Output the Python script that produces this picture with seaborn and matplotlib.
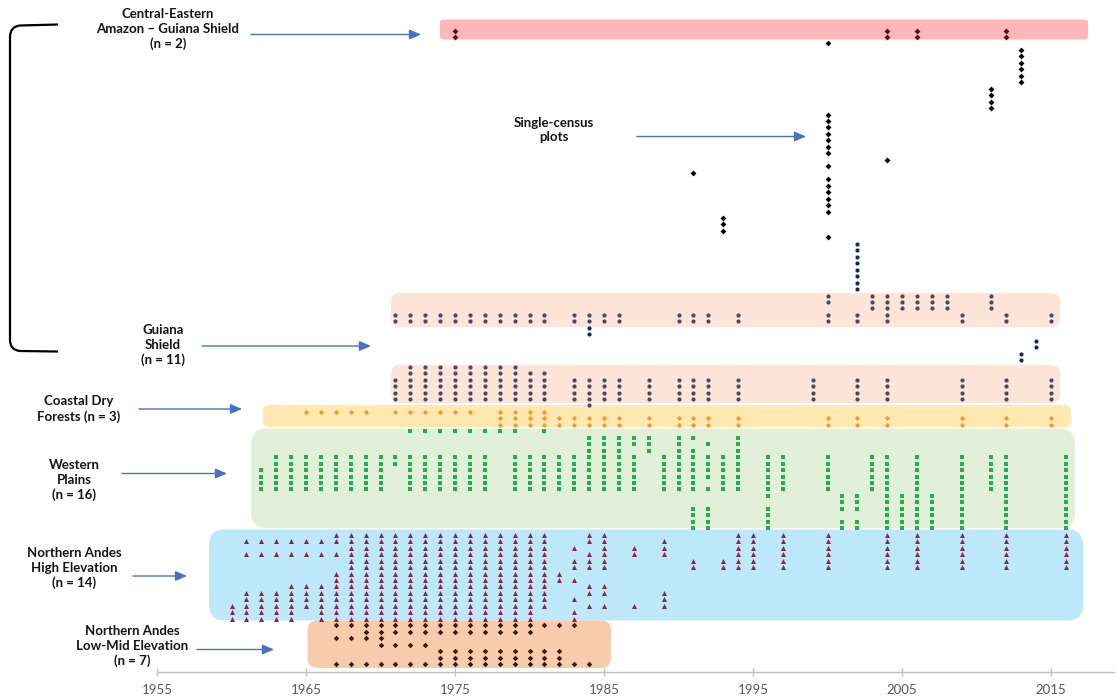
import matplotlib
matplotlib.use("Agg")
import matplotlib.pyplot as plt
import pandas as pd
import seaborn as sns
from matplotlib.patches import FancyBboxPatch, PathPatch
from matplotlib.path import Path
from matplotlib.transforms import IdentityTransform

# ---------------------------------------------------------------------------
# Census years of every plot, one list per plot (row), grouped by region
# ---------------------------------------------------------------------------
central_eastern = [
    [1975, 2004, 2006, 2012],
    [1975, 2004, 2006, 2012],
]

single_census = [
    [2000],
    [2013], [2013], [2013], [2013], [2013], [2013],
    [2011], [2011], [2011], [2011],
    [2000], [2000], [2000], [2000], [2000], [2000], [2000],
    [2004],
    [2000],
    [1991],
    [2000], [2000], [2000], [2000], [2000], [2000],
    [1993], [1993], [1993],
    [2000],
]

single_census_navy = [
    [2002], [2002], [2002], [2002], [2002], [2002], [2002], [2002],
    [], [], [], [], [],
    [1984], [1984],
    [2014], [2014],
    [2013], [2013],
]

guiana_shield = [
    [2000, 2003, 2004, 2005, 2006, 2007, 2008, 2011],
    [2000, 2003, 2004, 2005, 2006, 2007, 2008, 2011],
    [2003, 2004, 2005, 2006, 2007, 2008, 2011],
    [1971, 1972, 1973, 1974, 1975, 1976, 1977, 1978, 1979, 1980, 1981, 1983,
     1984, 1985, 1986, 1990, 1991, 1992, 1994, 2000, 2002, 2004, 2009, 2012, 2015],
    [1971, 1972, 1973, 1974, 1975, 1976, 1977, 1978, 1979, 1980, 1981, 1983,
     1984, 1985, 1986, 1990, 1991, 1992, 1994, 2000, 2002, 2004, 2009, 2012, 2015],
    [], [], [], [], [], [],
    [1972, 1973, 1974, 1975, 1976, 1977, 1978, 1979],
    [1972, 1973, 1974, 1975, 1976, 1977, 1978, 1979, 1980, 1981],
    [1971, 1972, 1973, 1974, 1975, 1976, 1977, 1978, 1979, 1980, 1981, 1983, 1984, 1985,
     1986, 1988, 1990, 1991, 1992, 1994, 1999, 2002, 2004, 2009, 2012, 2015],
    [1971, 1972, 1973, 1974, 1975, 1976, 1977, 1978, 1979, 1980, 1981, 1983, 1984, 1985,
     1986, 1988, 1990, 1991, 1992, 1994, 1999, 2002, 2004, 2009, 2012, 2015],
    [1971, 1972, 1973, 1974, 1975, 1976, 1977, 1978, 1979, 1980, 1981, 1983, 1984, 1985,
     1986, 1988, 1990, 1991, 1992, 1994, 1999, 2002, 2004, 2009, 2012, 2015],
    [1971, 1972, 1973, 1974, 1975, 1976, 1977, 1978, 1979, 1980, 1981, 1983, 1984, 1985,
     1986, 1988, 1990, 1991, 1992, 1994, 1999, 2002, 2004, 2009, 2012, 2015],
    [1984],
]

coastal_dry = [
    [1965, 1966, 1967, 1968, 1969, 1971, 1972, 1973, 1974, 1975, 1976, 1978, 1979, 1980, 1981],
    [1978, 1979, 1980, 1981, 1982, 1983, 1984, 1985, 1986, 1988, 1990, 1991, 1992, 1994,
     2000, 2002, 2004, 2009, 2012, 2015],
    [1978, 1979, 1980, 1981, 1982, 1983, 1984, 1985, 1986, 1988, 1990, 1991, 1992, 1994,
     2000, 2002, 2004, 2009, 2012, 2015],
]

western_plains = [
    [1972, 1973, 1974, 1975, 1976, 1977, 1978, 1979, 1981],
    [1984, 1985, 1986, 1987, 1988, 1990, 1991, 1994],
    [1984, 1985, 1986, 1987, 1988, 1990, 1992, 1994],
    [1984, 1985, 1986, 1988, 1990, 1991, 1994],
    [1963, 1964, 1965, 1966, 1967, 1968, 1969, 1970, 1971, 1972, 1973, 1974, 1975, 1976,
     1977, 1979, 1980, 1981, 1982, 1983, 1984, 1985, 1986, 1987, 1989, 1990, 1991, 1992,
     1993, 1994, 1996, 1997, 2000, 2003, 2004, 2006, 2009, 2011, 2012, 2016],
    [1963, 1964, 1965, 1966, 1967, 1968, 1969, 1970, 1971, 1972, 1973, 1974, 1975, 1976,
     1977, 1979, 1980, 1981, 1982, 1983, 1984, 1985, 1986, 1987, 1989, 1990, 1991, 1992,
     1993, 1994, 1996, 1997, 2000, 2003, 2004, 2006, 2009, 2011, 2012, 2016],
    [1962, 1963, 1964, 1965, 1966, 1967, 1968, 1969, 1970, 1972, 1973, 1974, 1975, 1976,
     1977, 1979, 1980, 1981, 1982, 1983, 1984, 1985, 1986, 1987, 1989, 1990, 1991, 1992,
     1993, 1994, 1996, 1997, 2000, 2003, 2004, 2006, 2009, 2011, 2012, 2016],
    [1962, 1963, 1964, 1965, 1966, 1967, 1968, 1969, 1970, 1972, 1973, 1974, 1975, 1976,
     1977, 1979, 1980, 1981, 1982, 1983, 1984, 1985, 1986, 1987, 1989, 1990, 1991, 1992,
     1993, 1994, 1996, 1997, 2000, 2003, 2004, 2006, 2009, 2011, 2012, 2016],
    [1962, 1963, 1964, 1965, 1966, 1967, 1968, 1969, 1970, 1972, 1973, 1974, 1975, 1976,
     1977, 1979, 1980, 1981, 1982, 1983, 1984, 1985, 1986, 1987, 1989, 1990, 1991,
     1993, 1994, 1996, 1997, 2000, 2003, 2004, 2006, 2009, 2011, 2012, 2016],
    [1962, 1963, 1964, 1965, 1966, 1967, 1968, 1969, 1970, 1972, 1973, 1974, 1975, 1976,
     1977, 1979, 1980, 1981, 1982, 1983, 1984, 1985, 1986, 1987, 1989, 1990, 1991, 1992,
     1993, 1994, 1996, 1997, 2000, 2003, 2004, 2006, 2009, 2011, 2012, 2016],
    [1996, 2001, 2002, 2004, 2005, 2006, 2007, 2009, 2012, 2016],
    [2001, 2002, 2004, 2005, 2006, 2007, 2009, 2012, 2016],
    [1991, 1992, 1996, 2001, 2002, 2004, 2005, 2006, 2007, 2009, 2012, 2016],
    [1991, 1992, 1996, 2004, 2005, 2006, 2007, 2009, 2012, 2016],
    [1991, 1992, 1996, 2001, 2002, 2004, 2005, 2006, 2007, 2009, 2012, 2016],
    [1991, 1992, 1996, 2001, 2002, 2004, 2005, 2006, 2007, 2009, 2012, 2016],
]

andes_high = [
    [1967, 1968, 1969, 1970, 1971, 1972, 1973, 1974, 1975, 1976, 1977, 1978, 1979, 1980,
     1981, 1984, 1985, 1994, 1995, 1997, 2000, 2004, 2006, 2009, 2012, 2016],
    [1961, 1962, 1963, 1964, 1965, 1966, 1967, 1968, 1969, 1970, 1971, 1972, 1973, 1974,
     1975, 1976, 1977, 1978, 1979, 1980, 1981, 1984, 1985, 1989, 1994, 1995, 1997, 2000,
     2004, 2006, 2009, 2012, 2016],
    [1968, 1969, 1970, 1971, 1972, 1973, 1974, 1975, 1976, 1977, 1978, 1979, 1980, 1981,
     1983, 1985, 1987, 1989, 1994, 1995, 1997, 2000, 2004, 2006, 2009, 2012, 2016],
    [1961, 1962, 1963, 1964, 1965, 1966, 1967, 1968, 1969, 1970, 1971, 1972, 1973, 1974,
     1975, 1976, 1977, 1978, 1979, 1980, 1981, 1984, 1985, 1987, 1989, 1994, 1995, 1997,
     2000, 2004, 2006, 2009, 2012, 2016],
    [1968, 1969, 1970, 1971, 1972, 1973, 1974, 1975, 1976, 1977, 1978, 1979, 1980, 1981,
     1983, 1984, 1985, 1991, 1993, 1994, 1995, 1997, 2000, 2004, 2006, 2009, 2012, 2016],
    [1968, 1969, 1970, 1971, 1972, 1973, 1974, 1975, 1976, 1977, 1978, 1979, 1980, 1981,
     1983, 1984, 1985, 1991, 1993, 1994, 1995, 1997, 2000, 2004, 2006, 2009, 2012, 2016],
    [1967, 1968, 1969, 1970, 1971, 1972, 1973, 1974, 1975, 1976, 1977, 1978, 1979, 1980,
     1981, 1982],
    [1967, 1968, 1969, 1970, 1971, 1972, 1973, 1974, 1975, 1976, 1977, 1978, 1979, 1980,
     1981, 1982, 1983],
    [1964, 1965, 1966, 1967, 1968, 1969, 1970, 1971, 1972, 1973, 1974, 1975, 1976, 1977,
     1978, 1979, 1980, 1981, 1984, 1985],
    [1961, 1962, 1963, 1964, 1965, 1966, 1967, 1968, 1969, 1970, 1971, 1972, 1973, 1974,
     1975, 1976, 1977, 1978, 1979, 1980, 1981, 1984, 1985, 1989],
    [1961, 1962, 1963, 1964, 1965, 1966, 1967, 1968, 1969, 1970, 1971, 1972, 1973, 1974,
     1975, 1976, 1977, 1978, 1979, 1980, 1981, 1983, 1989],
    [1960, 1961, 1962, 1963, 1964, 1965, 1966, 1967, 1968, 1969, 1970, 1971, 1972, 1973,
     1974, 1975, 1976, 1977, 1978, 1979, 1980, 1981, 1984, 1985, 1987, 1989],
    [1960, 1961, 1962, 1963, 1964, 1966, 1967, 1968, 1969, 1970, 1971, 1972, 1973, 1974,
     1975, 1976, 1977, 1978, 1979, 1980, 1983],
    [1960, 1961, 1962, 1963, 1964, 1966, 1967, 1968, 1969, 1970, 1971, 1972, 1973, 1974,
     1975, 1976, 1977, 1978, 1979, 1980, 1983],
]

andes_low_mid = [
    [1967, 1968, 1969, 1970, 1971, 1972, 1973, 1974, 1975, 1976, 1977, 1978, 1979, 1980,
     1981, 1982, 1983],
    [1969, 1970, 1971, 1972, 1973, 1974, 1975, 1976, 1977, 1978, 1979, 1980],
    [1967, 1968, 1969, 1970],
    [1970, 1971, 1972, 1973],
    [1974, 1975, 1976, 1977, 1978, 1979, 1980, 1981, 1982],
    [1974, 1975, 1976, 1977, 1978, 1979, 1980, 1981, 1982],
    [1967, 1968, 1969, 1970, 1971, 1972, 1973, 1974, 1975, 1976, 1977, 1978, 1979, 1980,
     1981, 1982, 1983, 1984],
]

year_ticks = [1955, 1965, 1975, 1985, 1995, 2005, 2015]

# ---------------------------------------------------------------------------
# Layout and styling
# ---------------------------------------------------------------------------
W, H = 1116, 696
sns.set_theme(style="white")
plt.rcParams["font.family"] = ["Lato", "DejaVu Sans"]

# (name, first row, rows, marker, colour, size)
groups = [
    ("central_eastern", 0, central_eastern, "D", "#5A1018", 9),
    ("single_census", 2, single_census, "D", "#000000", 9),
    ("single_census_navy", 33, single_census_navy, "o", "#0E2A6B", 9),
    ("guiana_shield", 41, guiana_shield, "o", "#454A68", 9),
    ("coastal_dry", 59, coastal_dry, "D", "#F29A2E", 7),
    ("western_plains", 62, western_plains, "s", "#22B04B", 11),
    ("andes_high", 78, andes_high, "^", "#8A2744", 13),
    ("andes_low_mid", 92, andes_low_mid, "D", "#3A1A0E", 8),
]

records = []
for name, first, rows, *_ in groups:
    for i, years in enumerate(rows):
        for yr in years:
            records.append({"group": name, "row": first + i, "year": yr})
df = pd.DataFrame(records)

# background bands: (year start, year end, row top, row bottom, colour, corner px)
bands = [
    (1973.99, 2017.48, -1.70, 1.39, "#FDB6B9", 4),
    (1970.70, 2015.60, 40.60, 45.86, "#FCE5D7", 9),
    (1970.70, 2015.60, 51.74, 57.62, "#FCE5D7", 9),
    (1962.11, 2016.34, 57.93, 61.33, "#FFE9B0", 6),
    (1961.31, 2016.61, 61.56, 76.95, "#E2F0D9", 16),
    (1958.49, 2017.15, 77.18, 91.26, "#BDE8F9", 16),
    (1965.10, 1985.47, 91.26, 98.61, "#F8CBAD", 10),
]

fig = plt.figure(figsize=(W / 100, H / 100), dpi=100)
fig.patch.set_facecolor("white")
ax = fig.add_axes([0, 24 / H, 1, 672 / H])
ax.set_xlim(1944.463, 2019.356)
ax.set_ylim(99.23, -4.718)
ax.set_autoscale_on(False)
ax.patch.set_alpha(0)

for x0, x1, r0, r1, col, rad in bands:
    (px0, py1), (px1, py0) = ax.transData.transform([(x0, r0), (x1, r1)])
    box = FancyBboxPatch((px0 + rad, py0 + rad), (px1 - px0) - 2 * rad, (py1 - py0) - 2 * rad,
                         boxstyle=f"round,pad={rad}", transform=IdentityTransform(),
                         facecolor=col, edgecolor="none", zorder=0, clip_on=False)
    ax.add_artist(box)

for name, first, rows, marker, colour, size in groups:
    sub = df[df["group"] == name]
    sns.scatterplot(data=sub, x="year", y="row", marker=marker, color=colour, s=size,
                    linewidth=0, ax=ax, legend=False, zorder=3)

# axis styling
for side in ("top", "left", "right"):
    ax.spines[side].set_visible(False)
ax.spines["bottom"].set_color("#BFBFBF")
ax.spines["bottom"].set_linewidth(1.0)
ax.spines["bottom"].set_bounds(1955, 2019.2)
ax.set_xticks(year_ticks)
ax.set_xticklabels([str(t) for t in year_ticks])
ax.set_yticks([])
ax.set_xlabel("")
ax.set_ylabel("")
ax.tick_params(axis="x", direction="inout", length=6, width=1, color="#BFBFBF",
               labelcolor="#595959", labelsize=9.5, pad=5.5, bottom=True)
ax.grid(False)

# region labels and arrows (figure pixel positions, measured from the top)
labels = [
    ("Central-Eastern\nAmazon \u2013 Guiana Shield\n(n = 2)", 168, 29),
    ("Single-census\nplots", 554, 130),
    ("Guiana\nShield\n(n = 11)", 163, 345),
    ("Coastal Dry\nForests (n = 3)", 79, 409),
    ("Western\nPlains\n(n = 16)", 74, 480),
    ("Northern Andes\nHigh Elevation\n(n = 14)", 74, 568),
    ("Northern Andes\nLow-Mid Elevation\n(n = 7)", 132, 646),
]
for text, x, y in labels:
    fig.text(x, H - y, text, transform=IdentityTransform(), ha="center", va="center",
             fontsize=9.5, fontweight="bold", color="#141414", linespacing=1.27)

arrows = [
    (251, 421, 34.5),
    (637, 806, 136.5),
    (202, 371, 346),
    (139, 242, 409),
    (122, 227, 473.5),
    (133, 187, 576),
    (197, 274, 649.5),
]
for x0, x1, y in arrows:
    ax.annotate("", xy=(x1, H - y), xytext=(x0, H - y),
                xycoords="figure pixels", textcoords="figure pixels",
                annotation_clip=False,
                arrowprops=dict(arrowstyle="-|>,head_length=0.7,head_width=0.3",
                                color="#4472C4", lw=1.0, shrinkA=0, shrinkB=0,
                                mutation_scale=10))

# bracket spanning the Amazon / Guiana Shield section
verts = [(58, 24.5), (20, 25.5), (10, 26.5), (10, 37), (10, 340), (10, 350),
         (20, 351), (58, 351.5)]
codes = [Path.MOVETO, Path.LINETO, Path.CURVE3, Path.CURVE3, Path.LINETO,
         Path.CURVE3, Path.CURVE3, Path.LINETO]
bracket = Path([(vx, H - vy) for vx, vy in verts], codes)
ax.add_artist(PathPatch(bracket, transform=IdentityTransform(), facecolor="none",
                        edgecolor="black", lw=1.6, clip_on=False))

fig.savefig("out.png", dpi=100)
